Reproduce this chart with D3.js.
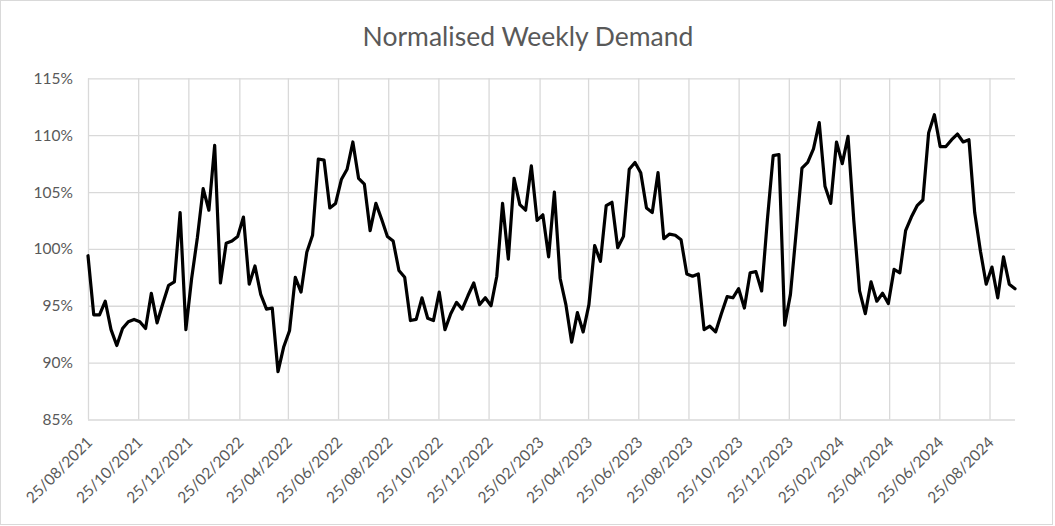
<!DOCTYPE html>
<html>
<head>
<meta charset="utf-8">
<script src="https://cdn.jsdelivr.net/npm/d3@7"></script>
<style>
  html, body { margin: 0; padding: 0; background: #fff; }
  svg { display: block; }
  text { font-family: Lato, "Open Sans", sans-serif; fill: #595959; }
</style>
</head>
<body>
<svg id="chart" width="1055" height="526"></svg>
<script>
// ---- data ----
const title = "Normalised Weekly Demand";
const startDate = "2021-08-25";   // first weekly observation
const endDate = "2024-09-25";     // last weekly observation
const demand = [
  99.4, 94.2, 94.2, 95.4, 92.9, 91.5, 93.0, 93.6, 93.8, 93.6,
  93.0, 96.1, 93.5, 95.2, 96.8, 97.1, 103.2, 92.9, 97.4, 101.0,
  105.3, 103.4, 109.1, 97.0, 100.5, 100.7, 101.1, 102.8, 96.9, 98.5,
  96.0, 94.7, 94.8, 89.2, 91.4, 92.8, 97.5, 96.2, 99.7, 101.2,
  107.9, 107.8, 103.6, 104.0, 106.1, 107.0, 109.4, 106.2, 105.7, 101.6,
  104.0, 102.6, 101.1, 100.7, 98.1, 97.5, 93.7, 93.8, 95.7, 93.9,
  93.7, 96.2, 92.9, 94.3, 95.3, 94.7, 95.9, 97.0, 95.1, 95.7,
  95.0, 97.6, 104.0, 99.1, 106.2, 103.9, 103.4, 107.3, 102.5, 103.0,
  99.3, 105.0, 97.4, 95.1, 91.8, 94.4, 92.7, 95.1, 100.3, 98.9,
  103.8, 104.1, 100.1, 101.1, 107.0, 107.6, 106.7, 103.6, 103.2, 106.7,
  100.9, 101.3, 101.2, 100.8, 97.8, 97.6, 97.8, 92.9, 93.2, 92.7,
  94.3, 95.8, 95.7, 96.5, 94.8, 97.9, 98.0, 96.3, 102.6, 108.2,
  108.3, 93.3, 96.0, 101.5, 107.1, 107.6, 108.8, 111.1, 105.5, 104.0,
  109.4, 107.5, 109.9, 102.5, 96.3, 94.3, 97.1, 95.4, 96.1, 95.2,
  98.2, 97.9, 101.6, 102.8, 103.8, 104.3, 110.2, 111.8, 109.0, 109.0,
  109.6, 110.1, 109.4, 109.6, 103.2, 99.8, 96.9, 98.4, 95.7, 99.3,
  96.9, 96.5
];
const xTickLabels = [
  "25/08/2021", "25/10/2021", "25/12/2021", "25/02/2022", "25/04/2022",
  "25/06/2022", "25/08/2022", "25/10/2022", "25/12/2022", "25/02/2023",
  "25/04/2023", "25/06/2023", "25/08/2023", "25/10/2023", "25/12/2023",
  "25/02/2024", "25/04/2024", "25/06/2024", "25/08/2024"
];
const yTicks = [0.85, 0.90, 0.95, 1.00, 1.05, 1.10, 1.15];

// ---- build ----
const parseISO = d3.timeParse("%Y-%m-%d");
const parseDMY = d3.timeParse("%d/%m/%Y");
const fmtDMY = d3.timeFormat("%d/%m/%Y");
const t0 = parseISO(startDate);
const points = demand.map((v, i) => ({ date: d3.timeDay.offset(t0, 7 * i), value: v / 100 }));
const tickDates = xTickLabels.map(parseDMY);

const svg = d3.select("#chart");
const W = 1055, H = 526;
const plot = { left: 88, right: 1015, top: 78.3, bottom: 419.5 };

svg.append("rect").attr("x", 0.5).attr("y", 0.5).attr("width", W - 3).attr("height", H - 2)
  .attr("fill", "#fff").attr("stroke", "#d9d9d9").attr("stroke-width", 1);

const x = d3.scaleTime().domain([parseISO(startDate), parseISO(endDate)]).range([plot.left, plot.right]);
const y = d3.scaleLinear().domain([0.85, 1.15]).range([plot.bottom, plot.top]);

// vertical gridlines
const xAxis = d3.axisBottom(x).tickValues(tickDates).tickSize(-(plot.bottom - plot.top)).tickFormat(fmtDMY);
const gx = svg.append("g").attr("transform", `translate(0,${plot.bottom})`).call(xAxis);
gx.select(".domain").remove();
gx.selectAll(".tick line").attr("stroke", "#d9d9d9").attr("stroke-width", 1.3);
gx.selectAll(".tick text")
  .attr("font-size", 15.5)
  .attr("fill", "#595959")
  .attr("text-anchor", "end")
  .attr("dy", "0.35em")
  .attr("y", 0)
  .attr("transform", "translate(1,20) rotate(-45)");

// horizontal gridlines
const yAxis = d3.axisLeft(y).tickValues(yTicks).tickSize(-(plot.right - plot.left)).tickFormat(d3.format(".0%"));
const gy = svg.append("g").attr("transform", `translate(${plot.left},0)`).call(yAxis);
gy.select(".domain").remove();
gy.selectAll(".tick line").attr("stroke", "#d9d9d9").attr("stroke-width", 1.3);
gy.selectAll(".tick text").attr("font-size", 15.5).attr("fill", "#595959").attr("x", -15);

// line
const line = d3.line().x(d => x(d.date)).y(d => y(d.value));
svg.append("path").datum(points)
  .attr("d", line)
  .attr("fill", "none")
  .attr("stroke", "#000")
  .attr("stroke-width", 3.2)
  .attr("stroke-linejoin", "round")
  .attr("stroke-linecap", "round");

// title
svg.append("text").attr("x", 528).attr("y", 46).attr("text-anchor", "middle")
  .attr("font-size", 26.5).attr("fill", "#595959").text(title);
</script>
</body>
</html>
